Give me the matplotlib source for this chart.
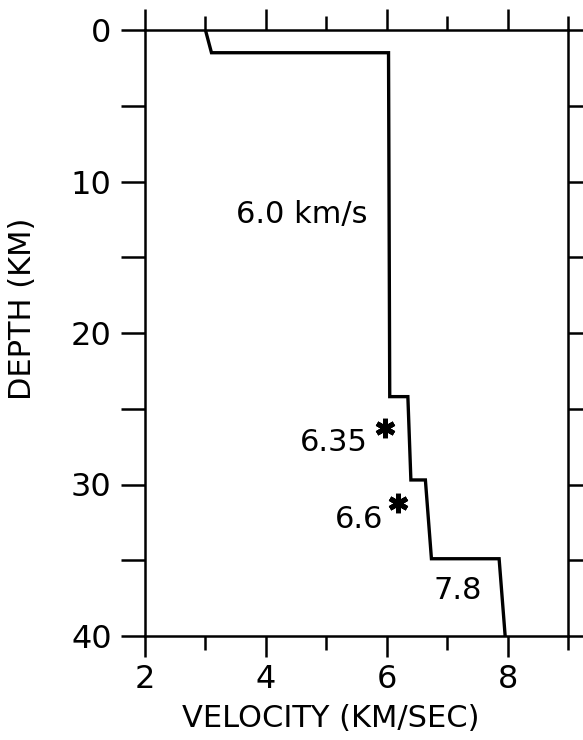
import matplotlib.pyplot as plt
from matplotlib.ticker import MultipleLocator

# velocity model (km/s) vs depth (km)
velocity = [3.0, 3.1, 6.03, 6.05, 6.35, 6.40, 6.64, 6.74, 7.86, 7.96]
depth = [0, 1.5, 1.5, 24.2, 24.2, 29.7, 29.7, 34.9, 34.9, 40]

# starred estimates
star_vel = [5.97, 6.19]
star_depth = [26.3, 31.2]

# annotations: text, velocity, depth
labels = ["6.0 km/s", "6.35", "6.6", "7.8"]
label_vel = [5.68, 5.68, 5.94, 7.18]
label_depth = [12.2, 27.2, 32.3, 37.0]
label_ha = ["right", "right", "right", "center"]

plt.rcParams['font.family'] = ['DejaVu Sans']

fig = plt.figure(figsize=(5.83, 7.40), dpi=100)
ax = fig.add_axes([145 / 583, 1 - 636 / 740, (568 - 145) / 583, (636 - 30) / 740])

ax.plot(velocity, depth, color='black', lw=2.4, solid_joinstyle='miter')
ax.plot(star_vel, star_depth, linestyle='none', marker=(6, 2, 0),
        markersize=14, color='black', markeredgewidth=3.6)

for txt, v, d, ha in zip(labels, label_vel, label_depth, label_ha):
    ax.text(v, d, txt, fontsize=22, ha=ha, va='center')

ax.set_xlim(2, 9)
ax.set_ylim(40, 0)

ax.xaxis.set_major_locator(MultipleLocator(2))
ax.xaxis.set_minor_locator(MultipleLocator(1))
ax.yaxis.set_major_locator(MultipleLocator(10))
ax.yaxis.set_minor_locator(MultipleLocator(5))

ax.tick_params(axis='both', which='both', direction='out', width=1.8,
               top=True, right=True, labelsize=23, colors='black')
ax.tick_params(axis='x', which='major', length=15, pad=5)
ax.tick_params(axis='x', which='minor', length=10)
ax.tick_params(axis='y', which='both', length=17, pad=7)
ax.set_xticklabels([], minor=True)

for s in ax.spines.values():
    s.set_linewidth(1.8)

ax.set_xlabel("VELOCITY (KM/SEC)", fontsize=22)
ax.xaxis.set_label_coords(0.44, -0.112)
ax.set_ylabel("DEPTH (KM)", fontsize=22)
ax.yaxis.set_label_coords(-0.255, 0.54)

fig.savefig("out.png", dpi=100)
